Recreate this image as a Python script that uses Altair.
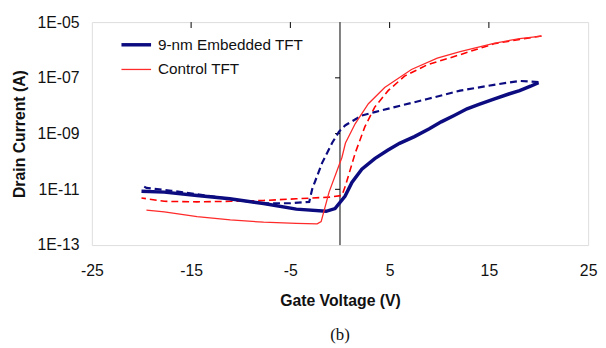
import altair as alt
import pandas as pd

# ---- data (gate voltage V, log10 of drain current A) ----
navy_fwd_v = [-20, -17.7, -14.4, -11.1, -7.7, -4.4, -1.4, -0.5, 0.5, 1.2, 2.2, 3.5, 4.8,
              6.0, 7.5, 9.0, 10.2, 11.5, 12.8, 14.0, 15.5, 17.0, 18.1, 19.2, 20]
navy_fwd_log = [-11.07, -11.10, -11.22, -11.34, -11.51, -11.71, -11.79, -11.69, -11.25, -10.75,
                -10.28, -9.90, -9.60, -9.35, -9.11, -8.83, -8.58, -8.35, -8.11, -7.95,
                -7.76, -7.58, -7.46, -7.30, -7.17]

navy_rev_v = [20, 18.1, 15.5, 12.1, 8.8, 5.5, 3.5, 2.2, 0.55, -0.1, -0.8, -1.8, -2.8, -3.1,
              -5, -8, -11, -14, -17, -19.5, -20]
navy_rev_log = [-7.15, -7.11, -7.25, -7.46, -7.76, -8.05, -8.23, -8.35, -8.70, -8.93, -9.34,
                -10.05, -10.99, -11.45, -11.50, -11.50, -11.35, -11.20, -11.05, -10.95, -10.85]

red_fwd_v = [-19.5, -17.7, -14.4, -11.05, -7.7, -4.4, -2.3, -1.9, -1.1, 0.2, 0.55, 1.54,
             2.86, 4.5, 7.2, 9.8, 12.1, 15.5, 18.1, 20.3]
red_fwd_log = [-11.75, -11.81, -11.98, -12.10, -12.18, -12.22, -12.24, -12.16, -11.10, -9.85,
               -9.34, -8.64, -7.93, -7.35, -6.70, -6.29, -6.06, -5.76, -5.59, -5.50]

red_rev_v = [20.3, 18.1, 15.5, 12.1, 8.8, 6.5, 4.85, 3.5, 2.5, 1.54, 0.55, 0.2, -1.1, -4.4,
             -7.7, -11, -14.4, -17.7, -20]
red_rev_log = [-5.50, -5.62, -5.78, -6.17, -6.53, -6.94, -7.46, -8.05, -8.76, -9.69, -10.87,
               -11.22, -11.28, -11.34, -11.40, -11.43, -11.45, -11.43, -11.31]

series_names = ["9-nm Embedded TFT", "Control TFT"]
x_tick_values = [-25, -15, -5, 5, 15, 25]
y_tick_values = [1e-13, 1e-11, 1e-9, 1e-7, 1e-5]
top_tick_values = [-15, -5, 5, 15]
zero_tick_values = [1e-11, 1e-9, 1e-7]

NAVY = "#0c0c80"
RED = "#ff2a2a"
FONT = "Liberation Sans"


def frame(v, logs, name):
    return pd.DataFrame({"v": v, "I": [10 ** k for k in logs], "series": name,
                         "order": list(range(len(v)))})


navy_fwd = frame(navy_fwd_v, navy_fwd_log, series_names[0])
navy_rev = frame(navy_rev_v, navy_rev_log, series_names[0])
red_fwd = frame(red_fwd_v, red_fwd_log, series_names[1])
red_rev = frame(red_rev_v, red_rev_log, series_names[1])

x_enc = alt.X("v:Q",
              scale=alt.Scale(domain=[-25, 25], nice=False, zero=False),
              axis=alt.Axis(values=x_tick_values, title="Gate Voltage (V)", ticks=False,
                            labelExpr="(datum.value < 0 ? '-' : '') + abs(datum.value)",
                            domain=False, grid=False, labelPadding=18, titlePadding=14,
                            labelFont=FONT, labelFontSize=16, labelColor="#111",
                            titleFont=FONT, titleFontSize=16, titleFontWeight="bold",
                            titleColor="#111", labelFlush=False))
y_enc = alt.Y("I:Q",
              scale=alt.Scale(type="log", domain=[1e-13, 1e-5], nice=False),
              axis=alt.Axis(values=y_tick_values,
                            labelExpr="'1E-' + format(-round(log(datum.value)/LN10), '02d')",
                            title="Drain Current (A)", ticks=False, domain=False, grid=False,
                            labelPadding=13, titlePadding=10,
                            labelFont=FONT, labelFontSize=16, labelColor="#111",
                            titleFont=FONT, titleFontSize=16, titleFontWeight="bold",
                            titleColor="#111", labelFlush=False))

legend = alt.Legend(title=None, orient="none", legendX=28, legendY=6,
                    symbolType="stroke", symbolSize=900, labelFont=FONT,
                    labelFontSize=15.5, labelColor="#111", rowPadding=-1, labelOffset=5)

solid_fwd = alt.Chart(pd.concat([navy_fwd, red_fwd])).mark_line(strokeCap="butt").encode(
    x=x_enc, y=y_enc, detail="series:N", order="order:Q",
    color=alt.Color("series:N", scale=alt.Scale(domain=series_names, range=[NAVY, RED]),
                    legend=legend),
    strokeWidth=alt.StrokeWidth("series:N",
                                scale=alt.Scale(domain=series_names, range=[3.5, 1.3]),
                                legend=legend),
)

navy_dash = alt.Chart(navy_rev).mark_line(color=NAVY, strokeWidth=2.2,
                                          strokeDash=[7, 4]).encode(
    x=x_enc, y=y_enc, order="order:Q")
red_dash = alt.Chart(red_rev).mark_line(color="#ff0000", strokeWidth=1.6,
                                        strokeDash=[7, 4]).encode(
    x=x_enc, y=y_enc, order="order:Q")

zero_line = alt.Chart(pd.DataFrame({"v": [0]})).mark_rule(color="black", strokeWidth=1).encode(
    x=x_enc)

top_ticks = alt.Chart(pd.DataFrame({"v": top_tick_values})).mark_rule(
    color="black", strokeWidth=1).encode(x=x_enc, y=alt.value(0), y2=alt.value(6))

zero_ticks = alt.Chart(pd.DataFrame({"I": zero_tick_values, "v": [0] * 3,
                                     "v2": [-0.5] * 3})).mark_rule(
    color="black", strokeWidth=1).encode(x=x_enc, x2="v2:Q", y=y_enc)

chart = alt.layer(zero_line, top_ticks, zero_ticks, red_dash, navy_dash, solid_fwd).properties(
    width=503, height=226,
    autosize="none",
    padding={"left": 85, "top": 12, "right": 10, "bottom": 99},
    title=alt.TitleParams("(b)", orient="bottom", font="Liberation Serif", fontSize=17,
                          fontWeight="normal", color="#111", offset=19),
).configure_view(stroke="black", strokeWidth=3).configure(background="white")

chart.save("out.html", embed_options={"renderer": "svg", "actions": False})
